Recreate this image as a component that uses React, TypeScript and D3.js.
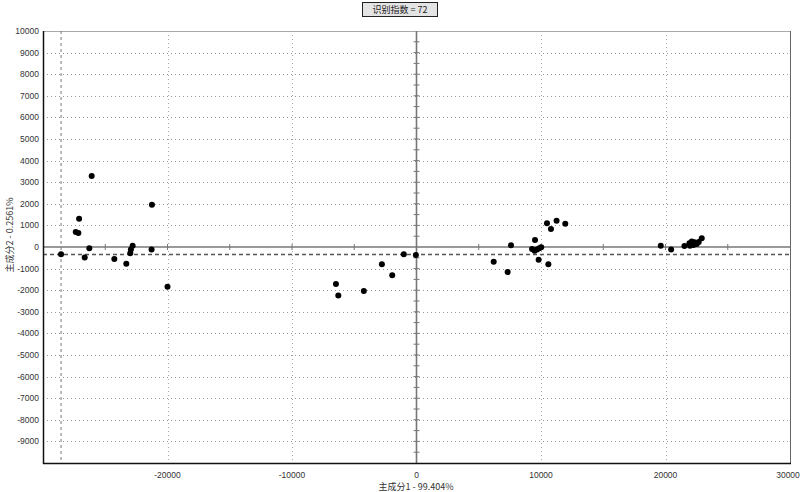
import React from "react";
import * as d3 from "d3";

const titleText = "识别指数 = 72";
const xLabel = "主成分1 - 99.404%";
const yLabel = "主成分2 - 0.2561%";

const xTicks = [-20000, -10000, 0, 10000, 20000, 30000];
const yTicks = [10000, 9000, 8000, 7000, 6000, 5000, 4000, 3000, 2000, 1000, 0, -1000, -2000, -3000, -4000, -5000, -6000, -7000, -8000, -9000];

const refX = -28550;
const refY = -350;

const pcX = [
  -26090, -21250, -27100, -27370, -27160, -26280, -28550, -26650, -24270, -23310, -22990, -22940, -22800, -21280, -20000,
  -1020, -50, -2780, -1950, -6470, -6280, -4230,
  10480, 11250, 11950, 10800, 7590, 9520, 9280, 9490, 9680, 9860, 10020, 9810, 10590, 6200, 7320,
  19620, 20450, 21520, 21920, 22110, 22320, 22510, 22670, 22910, 21970, 22240,
];
const pcY = [
  3290, 1960, 1310, 690, 650, -60, -340, -490, -560, -770, -290, -110, 60, -120, -1840,
  -340, -370, -800, -1310, -1710, -2250, -2040,
  1100, 1220, 1080, 830, 80, 320, -90, -170, -110, -60, -10, -590, -800, -680, -1160,
  60, -110, 50, 170, 250, 220, 140, 230, 400, 60, 90,
];

export default function App() {
  const W = 800, H = 492;
  const L = 43, R = 790, T = 31, B = 463;
  const x = d3.scaleLinear().domain([-30000, 30000]).range([L, R]);
  const y = d3.scaleLinear().domain([-10000, 10000]).range([B, T]);
  const font = "'Liberation Sans', Arial, sans-serif";
  const cjk = "'Noto Sans CJK SC', 'Liberation Sans', sans-serif";

  const gridY = d3.range(-9000, 10001, 1000).filter((v) => v !== 0);
  const gridX = [-20000, -10000, 10000, 20000];
  const ticksAlongX = d3.range(-30000, 30001, 5000).filter((v) => v !== 0 && v > -30000 && v < 30000);
  const ticksAlongY = d3.range(-9500, 10000, 500).filter((v) => v !== 0);

  return (
    <svg width={W} height={H} style={{ position: "absolute", left: 0, top: 0, background: "#fff" }}>
      <rect x={0} y={0} width={W} height={H} fill="#fff" />
      {/* title box */}
      <rect x={362.5} y={2.5} width={75} height={14} fill="#e4e4e4" stroke="#222" strokeWidth={1} />
      <text x={400} y={13} textAnchor="middle" fontSize={9} fontFamily={cjk} fill="#222">{titleText}</text>

      {/* grid */}
      {gridY.map((v) => (
        <line key={"gy" + v} x1={L} x2={R} y1={Math.round(y(v)) + 0.5} y2={Math.round(y(v)) + 0.5} stroke="#999" strokeWidth={1} strokeDasharray="1,3" />
      ))}
      {gridX.map((v) => (
        <line key={"gx" + v} x1={Math.round(x(v)) + 0.5} x2={Math.round(x(v)) + 0.5} y1={T} y2={B} stroke="#aaa" strokeWidth={1} strokeDasharray="1,3" />
      ))}

      {/* frame */}
      <line x1={L} x2={R} y1={T + 0.5} y2={T + 0.5} stroke="#aaa" strokeWidth={1} />
      <line x1={R + 0.5} x2={R + 0.5} y1={T} y2={B} stroke="#666" strokeWidth={1} />

      {/* zero axes */}
      <line x1={L} x2={R} y1={y(0)} y2={y(0)} stroke="#777" strokeWidth={1.6} />
      <line x1={x(0)} x2={x(0)} y1={T} y2={B} stroke="#777" strokeWidth={1.6} />
      {ticksAlongX.map((v) => (
        <line key={"tx" + v} x1={x(v)} x2={x(v)} y1={y(0) - 3} y2={y(0) + 3} stroke="#777" strokeWidth={1} />
      ))}
      {ticksAlongY.map((v) => (
        <line key={"ty" + v} x1={x(0) - 3} x2={x(0) + 3} y1={y(v)} y2={y(v)} stroke="#777" strokeWidth={1} />
      ))}

      {/* reference dashed lines */}
      <line x1={L} x2={R} y1={y(refY)} y2={y(refY)} stroke="#555" strokeWidth={1.6} strokeDasharray="4,3" />
      <line x1={x(refX)} x2={x(refX)} y1={T} y2={B} stroke="#777" strokeWidth={1} strokeDasharray="3,3" />

      {/* outer axes */}
      <line x1={L + 0.5} x2={L + 0.5} y1={T} y2={B + 1} stroke="#111" strokeWidth={1.5} />
      <line x1={L} x2={R + 1} y1={B + 0.5} y2={B + 0.5} stroke="#111" strokeWidth={1.5} />

      {/* y tick labels */}
      {yTicks.map((v) => (
        <text key={"yl" + v} x={39} y={y(v) + 3} textAnchor="end" fontSize={8.5} fontFamily={font} fill="#333">{v}</text>
      ))}
      {/* x tick labels */}
      {xTicks.map((v) => (
        <text key={"xl" + v} x={Math.min(x(v), 788)} y={478} textAnchor="middle" fontSize={8.5} fontFamily={font} fill="#333">{v}</text>
      ))}

      {/* axis titles */}
      <text x={416} y={490} textAnchor="middle" fontSize={9} fontFamily={cjk} fill="#333">{xLabel}</text>
      <text transform={`translate(13, 235) rotate(-90)`} textAnchor="middle" fontSize={9} fontFamily={cjk} fill="#333">{yLabel}</text>

      {/* points */}
      {pcX.map((v, i) => (
        <circle key={"p" + i} cx={x(v)} cy={y(pcY[i])} r={3} fill="#000" />
      ))}
    </svg>
  );
}
